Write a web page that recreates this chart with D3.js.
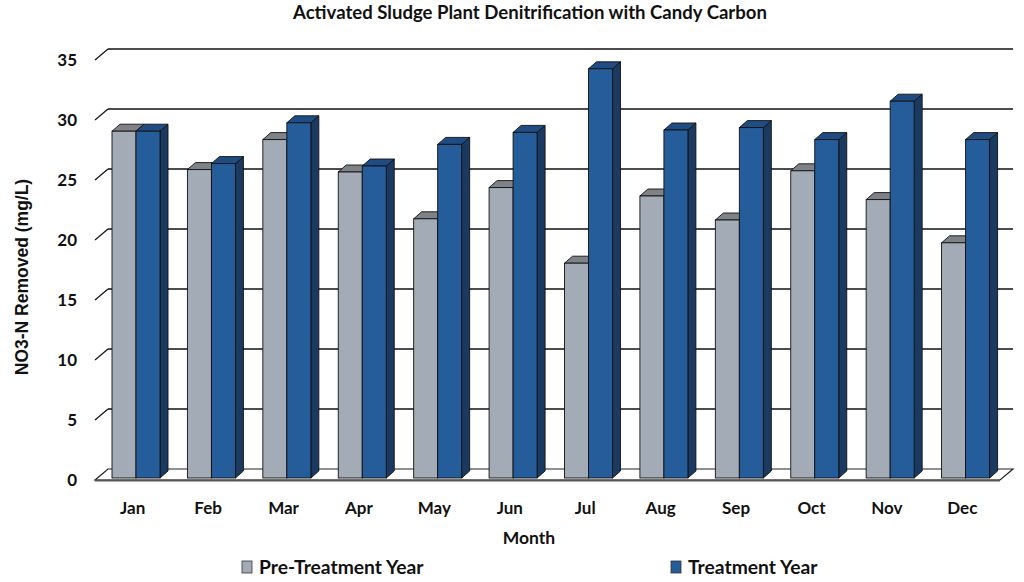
<!DOCTYPE html>
<html><head><meta charset="utf-8">
<script src="https://cdn.jsdelivr.net/npm/d3@7"></script>
<style>body{margin:0;background:#fff}svg{display:block}</style>
</head><body>
<svg id="c" width="1024" height="582"></svg>
<script>
const months = ["Jan","Feb","Mar","Apr","May","Jun","Jul","Aug","Sep","Oct","Nov","Dec"];
const preTreatment = [28.9, 25.7, 28.2, 25.5, 21.6, 24.2, 17.9, 23.5, 21.5, 25.6, 23.2, 19.6];
const treatment   = [28.9, 26.2, 29.6, 26.0, 27.8, 28.8, 34.1, 29.0, 29.2, 28.2, 31.4, 28.2];
const yTicks = [0,5,10,15,20,25,30,35];
const seriesNames = ["Pre-Treatment Year","Treatment Year"];

const svg = d3.select("#c");
const font = "Lato, 'Open Sans', sans-serif";

// geometry
const frontL = 95, frontR = 1000, floorY = 480;
const depth = {x: 13, y: -11};
const barDepth = {x: 8, y: -7};
const barOff = {x: 2, y: -2};

const yFront = d3.scaleLinear().domain([0,35]).range([floorY, floorY - 420]);
const yBack = v => yFront(v) + depth.y;
const yBar = v => yFront(v) + barOff.y;
const x = d3.scaleBand().domain(months).range([frontL, frontR]);

const colors = {
  pre: {front:"#a3acb6", top:"#7f8388", side:"#6d737a"},
  tr:  {front:"#255d9b", top:"#1f4d83", side:"#1a3a62"}
};

// floor
const floor = svg.append("g");
floor.append("path")
  .attr("d", `M${frontL},${floorY} L${frontR},${floorY} L${frontR+depth.x},${floorY+depth.y} L${frontL+depth.x},${floorY+depth.y} Z`)
  .attr("fill","#fff").attr("stroke","#222").attr("stroke-width",1.2);
floor.append("line").attr("x1",frontL).attr("x2",frontR).attr("y1",floorY+0.5).attr("y2",floorY+0.5)
  .attr("stroke","#555").attr("stroke-width",2.2);

// gridlines on back wall + diagonal ticks
const grid = svg.append("g");
yTicks.forEach(v => {
  if (v > 0) {
    grid.append("line").attr("x1",frontL+depth.x).attr("x2",frontR+depth.x)
      .attr("y1",yBack(v)).attr("y2",yBack(v)).attr("stroke","#111").attr("stroke-width",1.3);
    grid.append("line").attr("x1",frontL).attr("y1",yFront(v))
      .attr("x2",frontL+depth.x).attr("y2",yBack(v)).attr("stroke","#111").attr("stroke-width",1.2);
  }
});

// y tick labels
svg.append("g").selectAll("text").data(yTicks).join("text")
  .attr("x",77).attr("y",d=>yFront(d)).attr("dy","0.36em")
  .attr("text-anchor","end").attr("font-family",font).attr("font-weight","bold")
  .attr("font-size",17).attr("fill","#111").text(d=>d);

// bars
const bw = 24;
function bar(g, x0, v, c) {
  const x1 = x0 + bw, yt = yBar(v), yb = yBar(0);
  const dx = barDepth.x, dy = barDepth.y;
  g.append("path").attr("d",`M${x1},${yb} L${x1+dx},${yb+dy} L${x1+dx},${yt+dy} L${x1},${yt} Z`)
    .attr("fill",c.side).attr("stroke","#111").attr("stroke-width",0.9);
  g.append("path").attr("d",`M${x0},${yt} L${x0+dx},${yt+dy} L${x1+dx},${yt+dy} L${x1},${yt} Z`)
    .attr("fill",c.top).attr("stroke","#111").attr("stroke-width",0.9);
  g.append("rect").attr("x",x0).attr("y",yt).attr("width",bw).attr("height",yb-yt)
    .attr("fill",c.front).attr("stroke","#111").attr("stroke-width",0.9);
}
const bars = svg.append("g");
months.forEach((m,i) => {
  const b = x(m) + barOff.x;
  bar(bars, b + 15, preTreatment[i], colors.pre);
  bar(bars, b + 39, treatment[i], colors.tr);
});

// x labels
svg.append("g").selectAll("text").data(months).join("text")
  .attr("x",d=>x(d)+x.bandwidth()/2).attr("y",508).attr("dy","0.36em")
  .attr("text-anchor","middle").attr("font-family",font).attr("font-weight","bold")
  .attr("font-size",17).attr("fill","#111").text(d=>d);

// titles
svg.append("text").attr("x",530).attr("y",13).attr("dy","0.36em").attr("text-anchor","middle")
  .attr("font-family",font).attr("font-weight","bold").attr("font-size",18).attr("fill","#111")
  .attr("textLength",474).attr("lengthAdjust","spacingAndGlyphs")
  .text("Activated Sludge Plant Denitrification with Candy Carbon");
svg.append("text").attr("x",529).attr("y",538).attr("dy","0.36em").attr("text-anchor","middle")
  .attr("font-family",font).attr("font-weight","bold").attr("font-size",17.5).attr("fill","#111")
  .text("Month");
svg.append("text").attr("transform","translate(22,277) rotate(-90)").attr("dy","0.36em")
  .attr("text-anchor","middle").attr("font-family","'Liberation Sans', Arial, sans-serif")
  .attr("font-weight","bold").attr("font-size",17.5).attr("fill","#111")
  .text("NO3-N Removed (mg/L)");

// legend
const legend = svg.append("g");
const legX = [242, 671];
[colors.pre, colors.tr].forEach((c,i) => {
  legend.append("rect").attr("x",legX[i]).attr("y",561).attr("width",10).attr("height",12)
    .attr("fill",c.front).attr("stroke","#333").attr("stroke-width",0.8);
  legend.append("text").attr("x",legX[i]+17).attr("y",567).attr("dy","0.36em")
    .attr("font-family",font).attr("font-weight","bold").attr("font-size",19.3).attr("fill","#111")
    .text(seriesNames[i]);
});
</script>
</body></html>
